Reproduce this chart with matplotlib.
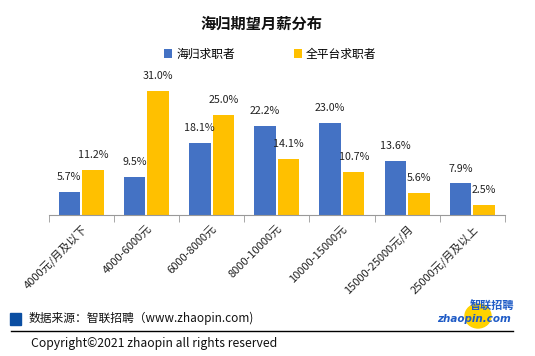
#海归期望月薪分布 - grouped bar chart
import numpy as np
import matplotlib.pyplot as plt
from matplotlib.patches import Ellipse, Rectangle
from matplotlib.lines import Line2D

plt.rcParams['font.family'] = ['Noto Sans CJK SC', 'DejaVu Sans']

#data
categories = ['4000元/月及以下', '4000-6000元', '6000-8000元', '8000-10000元',
              '10000-15000元', '15000-25000元/月', '25000元/月及以上']
haigui = [5.7, 9.5, 18.1, 22.2, 23.0, 13.6, 7.9]
quanpingtai = [11.2, 31.0, 25.0, 14.1, 10.7, 5.6, 2.5]
series_names = ['海归求职者', '全平台求职者']

blue = '#4472C4'
yellow = '#FFC000'

fig = plt.figure(figsize=(5.35, 3.56), dpi=100)
ax = fig.add_axes([48.5/535, 1-215/356, (505-48.5)/535, 140/356])

x = np.arange(len(categories))
w = 0.33
off = 0.18
b1 = ax.bar(x-off, haigui, w, color=blue, label=series_names[0])
b2 = ax.bar(x+off, quanpingtai, w, color=yellow, label=series_names[1])

#value labels above bars
for bars, vals in ((b1, haigui), (b2, quanpingtai)):
    for r, v in zip(bars, vals):
        ax.annotate('%.1f%%' % v, (r.get_x()+r.get_width()/2, v),
                    xytext=(0, 7), textcoords='offset points',
                    ha='center', va='bottom', fontsize=7.7, color='#222222')

ax.set_xlim(-0.5, len(categories)-0.5)
ax.set_ylim(0, 35)
ax.set_yticks([])
for s in ['top', 'right', 'left']:
    ax.spines[s].set_visible(False)
ax.spines['bottom'].set_color('#999999')
ax.set_xticks(x)
ax.set_xticklabels(categories, rotation=45, ha='right', rotation_mode='anchor',
                   fontsize=8, color='#222222')
ax.tick_params(axis='x', which='major', length=0, pad=6)
ax.set_xticks(np.arange(len(categories)+1)-0.5, minor=True)
ax.tick_params(axis='x', which='minor', length=5, color='#999999', direction='out')

#title and legend
fig.text(261.5/535, 1-24/356, '海归期望月薪分布', ha='center', va='center',
         fontsize=11, fontweight='bold', color='#111111')
fig.legend(handles=[b1, b2], loc='center', bbox_to_anchor=(0.505, 1-54/356),
           ncol=2, frameon=False, fontsize=8.5, handlelength=0.7, handleheight=0.7,
           columnspacing=5, handletextpad=0.3)

#footer
fig.patches.append(Rectangle((9.5/535, 1-325/356), 11/535, 12/356,
                             transform=fig.transFigure, color='#0B4EA2'))
fig.text(29/535, 1-318/356, '数据来源：智联招聘（www.zhaopin.com)', ha='left',
         va='center', fontsize=8.5, color='#111111')
fig.lines.append(Line2D([11/535, 513/535], [1-331/356, 1-331/356],
                        transform=fig.transFigure, color='black', lw=1))
fig.text(31/535, 1-343/356, 'Copyright©2021 zhaopin all rights reserved', ha='left',
         va='center', fontsize=8.8, color='#111111')

#logo
fig.patches.append(Ellipse((478/535, 1-316/356), 26/535, 24/356,
                           transform=fig.transFigure, color='#FFD200'))
fig.text(492/535, 1-306/356, '智联招聘', ha='center', va='center', fontsize=8,
         fontweight='bold', style='italic', color='#1F5BC6')
fig.text(474/535, 1-319/356, 'zhaopin.com', ha='center', va='center', fontsize=7.5,
         fontweight='bold', style='italic', color='#1F5BC6', family='DejaVu Sans')

fig.savefig('out.png', dpi=100)
